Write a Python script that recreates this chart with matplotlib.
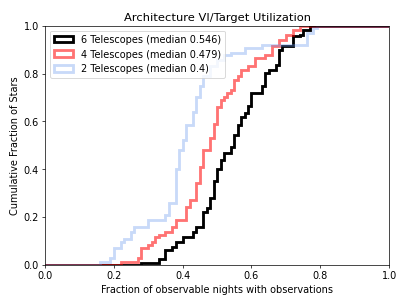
import numpy as np
import matplotlib.pyplot as plt

# CDF jump positions (fraction of nights) and cumulative level after each jump
x6 = [0.281, 0.339, 0.354, 0.373, 0.388, 0.407, 0.431, 0.446, 0.460, 0.474,
      0.489, 0.498, 0.508, 0.514, 0.528, 0.543, 0.557, 0.567, 0.576, 0.581,
      0.591, 0.606, 0.630, 0.640, 0.654, 0.678, 0.688, 0.693, 0.727, 0.746,
      0.756, 0.770]
y6 = [0.010, 0.024, 0.063, 0.077, 0.098, 0.118, 0.140, 0.160, 0.220, 0.240,
      0.280, 0.350, 0.400, 0.440, 0.467, 0.495, 0.545, 0.586, 0.620, 0.635,
      0.665, 0.718, 0.746, 0.802, 0.816, 0.837, 0.900, 0.913, 0.955, 0.962,
      0.983, 1.000]

x4 = [0.228, 0.276, 0.286, 0.300, 0.315, 0.325, 0.339, 0.358, 0.373, 0.388,
      0.412, 0.426, 0.441, 0.451, 0.465, 0.480, 0.494, 0.504, 0.509, 0.518,
      0.528, 0.538, 0.547, 0.557, 0.567, 0.576, 0.596, 0.615, 0.644, 0.664,
      0.683, 0.707, 0.727, 0.741]
y4 = [0.014, 0.028, 0.070, 0.084, 0.098, 0.118, 0.126, 0.140, 0.160, 0.190,
      0.244, 0.272, 0.342, 0.410, 0.481, 0.530, 0.590, 0.635, 0.662, 0.690,
      0.700, 0.718, 0.732, 0.774, 0.788, 0.816, 0.830, 0.865, 0.879, 0.913,
      0.941, 0.962, 0.983, 1.000]

x2 = [0.165, 0.194, 0.203, 0.223, 0.237, 0.257, 0.266, 0.305, 0.354, 0.368,
      0.383, 0.388, 0.397, 0.402, 0.417, 0.431, 0.446, 0.451, 0.465, 0.485,
      0.509, 0.528, 0.547, 0.586, 0.635, 0.761, 0.780, 0.794]
y2 = [0.014, 0.028, 0.070, 0.098, 0.110, 0.140, 0.160, 0.190, 0.210, 0.260,
      0.310, 0.400, 0.480, 0.523, 0.586, 0.641, 0.704, 0.746, 0.788, 0.830,
      0.858, 0.879, 0.886, 0.906, 0.920, 0.969, 0.990, 1.000]

labels = ["6 Telescopes (median 0.546)",
          "4 Telescopes (median 0.479)",
          "2 Telescopes (median 0.4)"]

series = [(x6, y6, "black", 1.0),
          (x4, y4, "red", 0.55),
          (x2, y2, "cornflowerblue", 0.35)]

plt.rcParams["font.size"] = 11
fig, ax = plt.subplots(figsize=(6.4, 4.8))
fig.subplots_adjust(left=0.1106, right=0.956, top=0.915, bottom=0.131)

# bins run a hair past 1 so the closing edge of the step sits outside the axes
bins = np.linspace(0, 1.02, 103)
for (xs, ys, c, a), lab in zip(series, labels):
    w = np.diff(np.concatenate([[0.0], ys]))
    ax.hist(xs, bins=bins, weights=w, cumulative=True, histtype="step",
            lw=3.2, color=c, alpha=a, label=lab)

ax.set_xlim(0, 1)
ax.set_ylim(0, 1)
ax.set_title("Architecture VI/Target Utilization", fontsize=13)
ax.set_xlabel("Fraction of observable nights with observations")
ax.set_ylabel("Cumulative Fraction of Stars")
ax.legend(loc="upper left")

fig.savefig("out.png", dpi=63.6)
